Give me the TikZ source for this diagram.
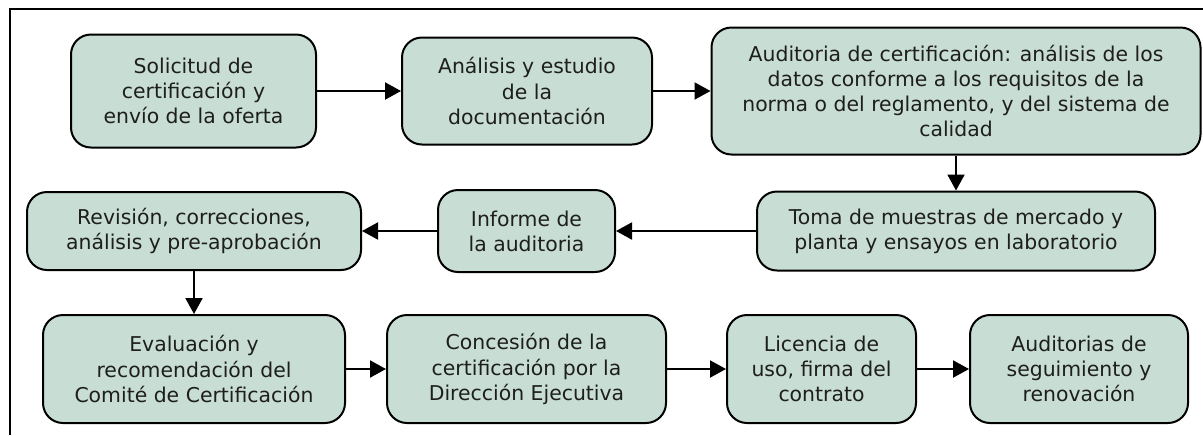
\documentclass[tikz,border=0pt]{standalone}
\usepackage{fontspec}
\setmainfont{DejaVu Sans}
\usetikzlibrary{arrows.meta}

\definecolor{boxgreen}{RGB}{200,222,212}
\definecolor{boxtext}{RGB}{30,30,30}

\tikzset{
  stepbox/.style={draw, line width=1pt, rounded corners=10pt, fill=boxgreen,
    text=boxtext, align=center, inner sep=0pt,
    font=\fontsize{10.2}{12.6}\selectfont},
  flow/.style={-{Triangle[length=8pt, width=8.5pt]}, line width=1pt}
}

\begin{document}
\begin{tikzpicture}[x=0.5pt, y=-0.5pt]

  \useasboundingbox (0,0) rectangle (1203,435);

  % Frame
  \draw[line width=1pt] (10,435) -- (10,9) -- (1203,9);

  %%%%%%%%%%%%%%%%%%%%%%%%%%%%%%%%%%%%%%%%%%%%%%%%%
  % First row
  \node[stepbox, minimum width=122.5pt, minimum height=56.5pt] (sol) at (193.5,91)
    {Solicitud de\\certificación y\\envío de la oferta};
  \node[stepbox, minimum width=125pt, minimum height=53.5pt] (ana) at (527,91)
    {Análisis y estudio\\de la\\documentación};
  \node[stepbox, minimum width=244.5pt, minimum height=63.5pt] (aud) at (956,91)
    {Auditoria de certificación: análisis de los\\datos conforme a los requisitos de la\\norma o del reglamento, y del sistema de\\calidad};

  %%%%%%%%%%%%%%%%%%%%%%%%%%%%%%%%%%%%%%%%%%%%%%%%%
  % Second row
  \node[stepbox, minimum width=199pt, minimum height=39.5pt] (toma) at (956,231)
    {Toma de muestras de mercado y\\planta y ensayos en laboratorio};
  \node[stepbox, minimum width=88.5pt, minimum height=41pt] (inf) at (526.5,231)
    {Informe de\\la auditoria};
  \node[stepbox, minimum width=167pt, minimum height=39pt] (rev) at (194,231)
    {Revisión, correcciones,\\análisis y pre-aprobación};

  %%%%%%%%%%%%%%%%%%%%%%%%%%%%%%%%%%%%%%%%%%%%%%%%%
  % Third row
  \node[stepbox, minimum width=151pt, minimum height=54pt] (eva) at (194,369)
    {Evaluación y\\recomendación del\\Comité de Certificación};
  \node[stepbox, minimum width=139.5pt, minimum height=54pt] (con) at (526.5,369)
    {Concesión de la\\certificación por la\\Dirección Ejecutiva};
  \node[stepbox, minimum width=94.5pt, minimum height=54pt] (lic) at (821.5,369)
    {Licencia de\\uso, firma del\\contrato};
  \node[stepbox, minimum width=109pt, minimum height=54pt] (seg) at (1079,369)
    {Auditorias de\\seguimiento y\\renovación};

  % Arrows
  \draw[flow] (sol) -- (ana);
  \draw[flow] (ana) -- (aud);
  \draw[flow] (aud) -- (toma);
  \draw[flow] (toma) -- (inf);
  \draw[flow] (inf) -- (rev);
  \draw[flow] (rev) -- (eva);
  \draw[flow] (eva) -- (con);
  \draw[flow] (con) -- (lic);
  \draw[flow] (lic) -- (seg);

\end{tikzpicture}
\end{document}
